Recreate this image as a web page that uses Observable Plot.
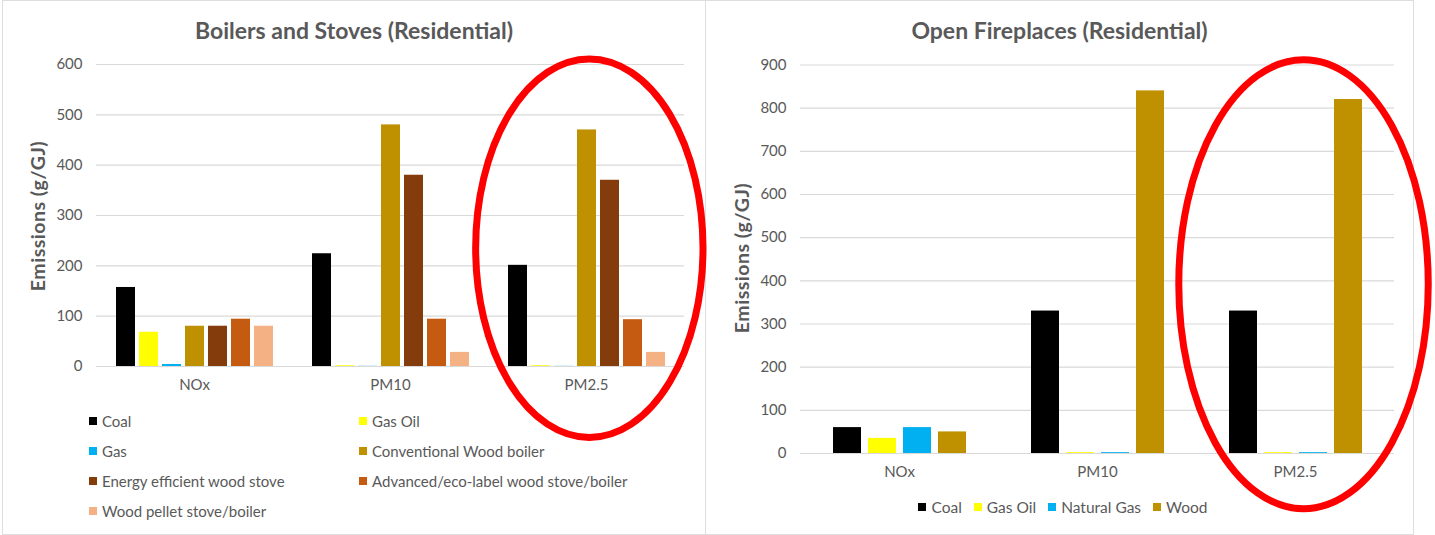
<!DOCTYPE html>
<html>
<head>
<meta charset="utf-8">
<script src="https://cdn.jsdelivr.net/npm/d3@7"></script>
<script src="https://cdn.jsdelivr.net/npm/@observablehq/plot@0.6"></script>
<style>
  html, body { margin: 0; padding: 0; background: #ffffff; }
  #stage { position: relative; width: 1435px; height: 535px; overflow: hidden; font-family: Lato, "Open Sans", sans-serif; color: #595959; }
  .panel { position: absolute; box-sizing: border-box; border: 1px solid #dedede; }
  .title { position: absolute; top: 15px; height: 30px; line-height: 30px; text-align: center; font-weight: 700; font-size: 23px; color: #595959; white-space: nowrap; }
  .ytitle { position: absolute; width: 220px; height: 26px; line-height: 26px; text-align: center; font-weight: 700; font-size: 19.5px; color: #595959; transform: rotate(-90deg); white-space: nowrap; letter-spacing: 0.5px; }
  .chart { position: absolute; top: 52px; }
  .chart svg { overflow: visible; }
  .legend-grid { position: absolute; display: grid; grid-template-columns: 270px 300px; grid-auto-rows: 30px; font-size: 15px; }
  .legend-row { position: absolute; display: flex; justify-content: center; column-gap: 12px; font-size: 15.5px; line-height: 20px; }
  .item { display: flex; align-items: center; white-space: nowrap; }
  .swatch { display: inline-block; width: 8px; height: 8px; margin-right: 5px; }
</style>
</head>
<body>
<div id="stage">
  <div class="panel" style="left:2px; top:0px; width:704px; height:535px;"></div>
  <div class="panel" style="left:705px; top:0px; width:709px; height:535px;"></div>
  <div class="title" style="left:2px; width:704px;">Boilers and Stoves (Residential)</div>
  <div class="title" style="left:705px; width:709px;">Open Fireplaces (Residential)</div>
  <div class="ytitle" style="left:-72px; top:203px;">Emissions (g/GJ)</div>
  <div class="ytitle" style="left:632px; top:245px;">Emissions (g/GJ)</div>
  <div id="boilers" class="chart" style="left:0px;"></div>
  <div id="fireplaces" class="chart" style="left:705px;"></div>
  <div id="boilersLegend" class="legend-grid" style="left:89px; top:406px;"></div>
  <div id="fireplacesLegend" class="legend-row" style="left:705px; width:716px; top:497px;"></div>
</div>
<script>
// Pollutant categories shared by both charts
const categories = ["NOx", "PM10", "PM2.5"];

// Boilers and stoves: emission factors (g/GJ) per pollutant, in category order
const boilerSeries = [
  "Coal", "Gas Oil", "Gas", "Conventional Wood boiler",
  "Energy efficient wood stove", "Advanced/eco-label wood stove/boiler", "Wood pellet stove/boiler"
];
const boilerColors = ["#000000", "#ffff00", "#00b0f0", "#bf9000", "#843c0c", "#c55a11", "#f4b183"];
const boilerCoal = [157, 224, 201];
const boilerGasOil = [68, 1.5, 1.5];
const boilerGas = [4, 0.3, 0.3];
const boilerConventionalWood = [80, 480, 470];
const boilerEnergyEfficient = [80, 380, 370];
const boilerAdvanced = [94, 94, 93];
const boilerPellet = [80, 28, 28];
const boilerTicks = [0, 100, 200, 300, 400, 500, 600];

// Open fireplaces: emission factors (g/GJ) per pollutant, in category order
const fireplaceSeries = ["Coal", "Gas Oil", "Natural Gas", "Wood"];
const fireplaceColors = ["#000000", "#ffff00", "#00b0f0", "#bf9000"];
const fireplaceCoal = [60, 330, 330];
const fireplaceGasOil = [35, 2, 2];
const fireplaceNaturalGas = [60, 2, 2];
const fireplaceWood = [50, 840, 820];
const fireplaceTicks = [0, 100, 200, 300, 400, 500, 600, 700, 800, 900];

function toRows(series, valueLists) {
  const rows = [];
  series.forEach((name, i) => {
    categories.forEach((category, j) => {
      rows.push({category, series: name, value: valueLists[i][j]});
    });
  });
  return rows;
}

const boilerRows = toRows(boilerSeries, [
  boilerCoal, boilerGasOil, boilerGas, boilerConventionalWood,
  boilerEnergyEfficient, boilerAdvanced, boilerPellet
]);
const fireplaceRows = toRows(fireplaceSeries, [
  fireplaceCoal, fireplaceGasOil, fireplaceNaturalGas, fireplaceWood
]);

function groupedBars({rows, series, colors, ticks, width, height, marginLeft, marginRight, marginTop, marginBottom, paddingInner, paddingOuter}) {
  const chart = Plot.plot({
    width, height, marginLeft, marginRight, marginTop, marginBottom,
    style: {background: "transparent", overflow: "visible", fontFamily: "Lato, 'Open Sans', sans-serif", fontSize: "15px", color: "#595959"},
    facet: {data: rows, x: "category"},
    fx: {domain: categories, padding: 0, label: null, tickSize: 0, tickPadding: 13},
    x: {domain: series, paddingInner, paddingOuter, axis: null},
    y: {domain: [0, d3.max(ticks)], ticks, tickSize: 0, tickPadding: 14, label: null},
    color: {domain: series, range: colors},
    marks: [
      Plot.ruleY(ticks, {stroke: "#d9d9d9", strokeWidth: 1.2}),
      Plot.barY(rows, {x: "series", y: "value", fill: "series"})
    ]
  });
  // axis labels in the same size and grey as the legend text
  chart.querySelectorAll("text").forEach((t) => {
    t.style.fontSize = "15px";
    t.style.fill = "#595959";
  });
  return chart;
}

// Red ring drawn around one pollutant group, sized from the chart's own scales
function ring(chart, category, yCenter, yRadius, xRadiusBands, dx) {
  const fx = chart.scale("fx");
  const y = chart.scale("y");
  const cx = fx.apply(category) + fx.bandwidth / 2 + dx * fx.bandwidth;
  const cy = y.apply(yCenter);
  const ry = Math.abs(y.apply(yCenter - yRadius) - cy);
  const rx = xRadiusBands * fx.bandwidth;
  const el = document.createElementNS("http://www.w3.org/2000/svg", "ellipse");
  el.setAttribute("cx", cx);
  el.setAttribute("cy", cy);
  el.setAttribute("rx", rx);
  el.setAttribute("ry", ry);
  el.setAttribute("fill", "none");
  el.setAttribute("stroke", "#ff0000");
  el.setAttribute("stroke-width", 7);
  chart.appendChild(el);
}

const boilers = groupedBars({
  rows: boilerRows, series: boilerSeries, colors: boilerColors, ticks: boilerTicks,
  width: 705, height: 354, marginLeft: 95, marginRight: 20, marginTop: 12, marginBottom: 40,
  paddingInner: 0.19, paddingOuter: 0.85
});
ring(boilers, "PM2.5", 234, 376, 0.58, 0.017);
document.getElementById("boilers").appendChild(boilers);

const fireplaces = groupedBars({
  rows: fireplaceRows, series: fireplaceSeries, colors: fireplaceColors, ticks: fireplaceTicks,
  width: 709, height: 436, marginLeft: 95, marginRight: 20, marginTop: 12.5, marginBottom: 35,
  paddingInner: 0.21, paddingOuter: 0.87
});
ring(fireplaces, "PM2.5", 391, 520, 0.63, 0.043);
document.getElementById("fireplaces").appendChild(fireplaces);

function legend(el, series, colors) {
  series.forEach((name, i) => {
    const item = document.createElement("div");
    item.className = "item";
    const sw = document.createElement("span");
    sw.className = "swatch";
    sw.style.background = colors[i];
    const label = document.createElement("span");
    label.textContent = name;
    item.appendChild(sw);
    item.appendChild(label);
    el.appendChild(item);
  });
}
legend(document.getElementById("boilersLegend"), boilerSeries, boilerColors);
legend(document.getElementById("fireplacesLegend"), fireplaceSeries, fireplaceColors);
</script>
</body>
</html>
